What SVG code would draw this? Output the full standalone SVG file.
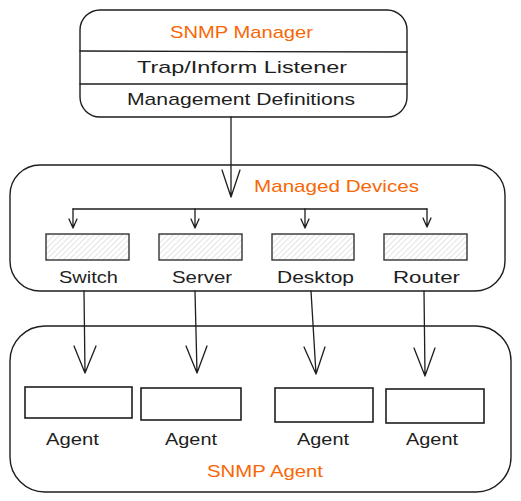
<svg xmlns="http://www.w3.org/2000/svg" width="521" height="501" viewBox="0 0 521 501">
<defs>
<pattern id="hatch" patternUnits="userSpaceOnUse" width="4" height="4" patternTransform="rotate(45)">
<line x1="0" y1="0" x2="0" y2="4" stroke="#c8c8c8" stroke-width="1"/>
</pattern>
<style>
.box{fill:#fff;stroke:#1e1e1e;stroke-width:1.4}
.dev{fill:url(#hatch);stroke:#333;stroke-width:1.4}
.ag{fill:#fff;stroke:#1e1e1e;stroke-width:1.6}
.t{font-family:"Liberation Sans","DejaVu Sans",sans-serif;font-size:17px;fill:#1e1e1e;text-anchor:middle}
.o{fill:#f76707}
.c{fill:none;stroke:#1e1e1e;stroke-width:1.3;stroke-linecap:round;stroke-linejoin:round}
</style>
</defs>
<rect width="521" height="501" fill="#fff"/>
<g id="manager">
<rect class="box" x="80" y="10" width="327" height="107" rx="20"/>
<line class="c" x1="80" y1="51" x2="407" y2="52"/>
<line class="c" x1="80" y1="84" x2="407" y2="84"/>
<text class="t o" x="241.5" y="38" textLength="143" lengthAdjust="spacingAndGlyphs">SNMP Manager</text>
<text class="t" x="242" y="73" textLength="210" lengthAdjust="spacingAndGlyphs">Trap/Inform Listener</text>
<text class="t" x="241" y="105" textLength="228" lengthAdjust="spacingAndGlyphs">Management Definitions</text>
</g>
<g id="managed-devices">
<rect class="box" x="10" y="165" width="495" height="126" rx="30"/>
<text class="t o" x="336.5" y="192" textLength="165" lengthAdjust="spacingAndGlyphs">Managed Devices</text>
</g>
<g id="switch">
<rect class="dev" x="46" y="234" width="83" height="26"/>
<text class="t" x="88.5" y="283" textLength="59" lengthAdjust="spacingAndGlyphs">Switch</text>
</g>
<g id="server">
<rect class="dev" x="159" y="234" width="83" height="26"/>
<text class="t" x="202" y="283" textLength="60" lengthAdjust="spacingAndGlyphs">Server</text>
</g>
<g id="desktop">
<rect class="dev" x="272" y="234" width="82" height="26"/>
<text class="t" x="315.5" y="283" textLength="77" lengthAdjust="spacingAndGlyphs">Desktop</text>
</g>
<g id="router">
<rect class="dev" x="384" y="234" width="83" height="26"/>
<text class="t" x="426.5" y="283" textLength="67" lengthAdjust="spacingAndGlyphs">Router</text>
</g>
<g id="snmp-agent">
<rect class="box" x="10" y="326" width="501" height="166" rx="35"/>
<text class="t o" x="265" y="477" textLength="116" lengthAdjust="spacingAndGlyphs">SNMP Agent</text>
</g>
<g id="agent1">
<rect class="ag" x="25" y="387" width="107" height="31"/>
<text class="t" x="72.5" y="445" textLength="53" lengthAdjust="spacingAndGlyphs">Agent</text>
</g>
<g id="agent2">
<rect class="ag" x="141" y="388" width="100" height="32"/>
<text class="t" x="191" y="445" textLength="52" lengthAdjust="spacingAndGlyphs">Agent</text>
</g>
<g id="agent3">
<rect class="ag" x="275" y="388" width="98" height="34"/>
<text class="t" x="323" y="445" textLength="52" lengthAdjust="spacingAndGlyphs">Agent</text>
</g>
<g id="agent4">
<rect class="ag" x="386" y="389" width="98" height="34"/>
<text class="t" x="432" y="445" textLength="52" lengthAdjust="spacingAndGlyphs">Agent</text>
</g>
<g id="connectors">
<path class="c" d="M231 117 L231 197 M222 170 L231 197 L240 170"/>
<path class="c" d="M73 209 L427 209"/>
<path class="c" d="M73 209 L73 228 M69 219 L73 228 L77 219"/>
<path class="c" d="M195 209 L195 228 M191 219 L195 228 L199 219"/>
<path class="c" d="M305 209 L305 228 M301 219 L305 228 L309 219"/>
<path class="c" d="M427 209 L427 227 M423 218 L427 227 L431 218"/>
<path class="c" d="M84 291 L85 373 M74 346 L85 373 L96 346"/>
<path class="c" d="M195 291 L197 373 M186 346 L197 373 L207 346"/>
<path class="c" d="M311 291 L316 374 M304 347 L316 374 L325 347"/>
<path class="c" d="M424 291 L425 376 M414 348 L425 376 L435 348"/>
</g>
</svg>
